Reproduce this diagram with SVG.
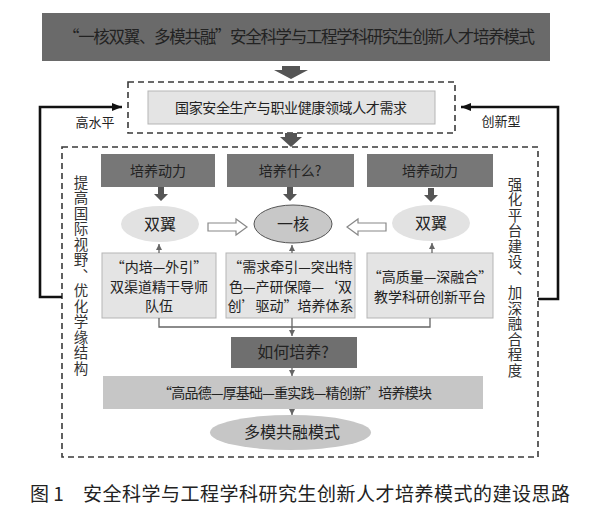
<svg xmlns="http://www.w3.org/2000/svg" width="599" height="513" viewBox="0 0 599 513">
<defs>
<style>
text{font-family:"Noto Sans CJK SC","Liberation Sans",sans-serif;fill:#222;}
.c{text-anchor:middle;}
.dark{fill:#6f6f6f;}
.mid{fill:#777777;}
.light{fill:#e4e4e4;stroke:#b5b5b5;stroke-width:1;}
.grey{fill:#c6c6c6;}
.dash{fill:none;stroke:#3a3a3a;stroke-width:1.6;stroke-dasharray:6 4;}
.fb{fill:none;stroke:#111;stroke-width:2.6;}
.thin{fill:none;stroke:#666;stroke-width:1.3;}
.blk{fill:#555;}
.hollow{fill:#fff;stroke:#888;stroke-width:1.2;}
.v{font-size:14.5px;fill:#333;writing-mode:vertical-rl;letter-spacing:1px;}
.t14{font-size:14px;}
</style>
<marker id="ah" markerWidth="8" markerHeight="8" refX="6" refY="4" orient="auto" markerUnits="userSpaceOnUse">
<path d="M0,1 L6,4 L0,7 Z" fill="#666"/>
</marker>
<marker id="fbh" markerWidth="12" markerHeight="12" refX="10" refY="6" orient="auto" markerUnits="userSpaceOnUse">
<path d="M0,2 L10,6 L0,10 Z" fill="#111"/>
</marker>
</defs>
<rect width="599" height="513" fill="#fff"/>

<g id="title">
<rect x="42" y="13" width="508" height="48" fill="#6a6a6a"/>
<text class="c" x="299" y="43" font-size="16.5" textLength="472" lengthAdjust="spacing">“一核双翼、多模共融”安全科学与工程学科研究生创新人才培养模式</text>
</g>

<g id="demand">
<rect class="dash" x="128" y="82" width="327" height="51"/>
<rect class="light" x="148" y="91" width="287" height="33" fill="#dcdcdc"/>
<text class="c t14" x="291" y="113" textLength="232" lengthAdjust="spacing">国家安全生产与职业健康领域人才需求</text>
</g>

<g id="label-high"><text class="c" x="95" y="127" font-size="13">高水平</text></g>
<g id="label-innov"><text class="c" x="501" y="126" font-size="13">创新型</text></g>

<g id="main-frame">
<rect class="dash" x="62" y="147" width="476" height="310"/>
</g>

<g id="left-vertical">
<text class="v" x="81" y="175">提高国际视野、优化学缘结构</text>
</g>

<g id="right-vertical">
<text class="v" x="515" y="177">强化平台建设、加深融合程度</text>
</g>

<g id="box-power-left">
<rect class="mid" x="101" y="154" width="114" height="33"/>
<text class="c t14" x="158" y="175.5">培养动力</text>
</g>
<g id="box-what">
<rect class="mid" x="227" y="154" width="127" height="33"/>
<text class="c t14" x="290" y="175.5">培养什么?</text>
</g>
<g id="box-power-right">
<rect class="mid" x="367" y="154" width="126" height="33"/>
<text class="c t14" x="430" y="175.5">培养动力</text>
</g>

<g id="wing-left">
<ellipse cx="160" cy="224" rx="39" ry="18" fill="#e2e2e2"/>
<text class="c" x="160" y="230" font-size="16">双翼</text>
</g>
<g id="core">
<ellipse cx="293" cy="224" rx="39" ry="19" fill="#c8c8c8" stroke="#555" stroke-width="1"/>
<text class="c" x="293" y="230" font-size="16">一核</text>
</g>
<g id="wing-right">
<ellipse cx="431" cy="223" rx="39" ry="18" fill="#e2e2e2"/>
<text class="c" x="431" y="229" font-size="16">双翼</text>
</g>

<g id="box-team">
<rect class="light" x="102" y="253" width="114" height="65"/>
<text class="c t14" x="159" y="272">“内培—外引”</text>
<text class="c t14" x="159" y="292">双渠道精干导师</text>
<text class="c t14" x="159" y="311">队伍</text>
</g>
<g id="box-system">
<rect class="light" x="226" y="253" width="129" height="65"/>
<text class="c t14" x="290.5" y="272">“需求牵引—突出特</text>
<text class="c t14" x="290.5" y="292">色—产研保障—‘双</text>
<text class="c t14" x="290.5" y="311">创’驱动”培养体系</text>
</g>
<g id="box-platform">
<rect class="light" x="367" y="253" width="126" height="65"/>
<text class="c t14" x="430" y="282">“高质量—深融合”</text>
<text class="c t14" x="430" y="302">教学科研创新平台</text>
</g>

<g id="box-how">
<rect class="dark" x="231" y="337" width="126" height="31"/>
<text class="c" x="293" y="358" font-size="16">如何培养?</text>
</g>
<g id="box-module">
<rect class="grey" x="103" y="376" width="380" height="33"/>
<text class="c t14" x="295" y="397.5" textLength="274" lengthAdjust="spacing">“高品德—厚基础—重实践—精创新”培养模块</text>
</g>
<g id="mode">
<ellipse cx="290.5" cy="432.5" rx="80.5" ry="17.5" fill="#c6c6c6"/>
<text class="c" x="292" y="438" font-size="16">多模共融模式</text>
</g>

<g id="connectors">
<polygon class="blk" points="282,66 300,66 300,70 308,70 291,79 274,70 282,70"/>
<polygon class="blk" points="285,133 297,133 297,137 302,137 291,147 280,137 285,137"/>
<polygon class="blk" points="158,187 164,187 164,194 168,194 161,201 154,194 158,194"/>
<polygon class="blk" points="287,187 293,187 293,194 297,194 290,201 283,194 287,194"/>
<polygon class="blk" points="428,188 434,188 434,195 438,195 431,202 424,195 428,195"/>
<polygon class="hollow" points="208,223 236,223 236,219 247,227 236,235 236,231 208,231"/>
<polygon class="hollow" points="386,223 358,223 358,219 347,227 358,235 358,231 386,231"/>
<line class="thin" x1="159" y1="253" x2="159" y2="244" marker-end="url(#ah)"/>
<line class="thin" x1="292" y1="253" x2="292" y2="245" marker-end="url(#ah)"/>
<line class="thin" x1="432" y1="253" x2="432" y2="243" marker-end="url(#ah)"/>
<polyline class="thin" points="159,318 159,327 430,327 430,318"/>
<line class="thin" x1="292" y1="318" x2="292" y2="336" marker-end="url(#ah)"/>
<line class="thin" x1="292" y1="368" x2="292" y2="376" marker-end="url(#ah)"/>
<line class="thin" x1="292" y1="409" x2="292" y2="415" marker-end="url(#ah)"/>
<polyline class="fb" points="62,297 40,297 40,107 122,107" marker-end="url(#fbh)"/>
<polyline class="fb" points="538,299 558,299 558,107 461,107" marker-end="url(#fbh)"/>
</g>

<g id="caption">
<text x="30" y="501" font-size="19">图 1</text>
<text x="83" y="501" font-size="19" textLength="487" lengthAdjust="spacing">安全科学与工程学科研究生创新人才培养模式的建设思路</text>
</g>
</svg>
